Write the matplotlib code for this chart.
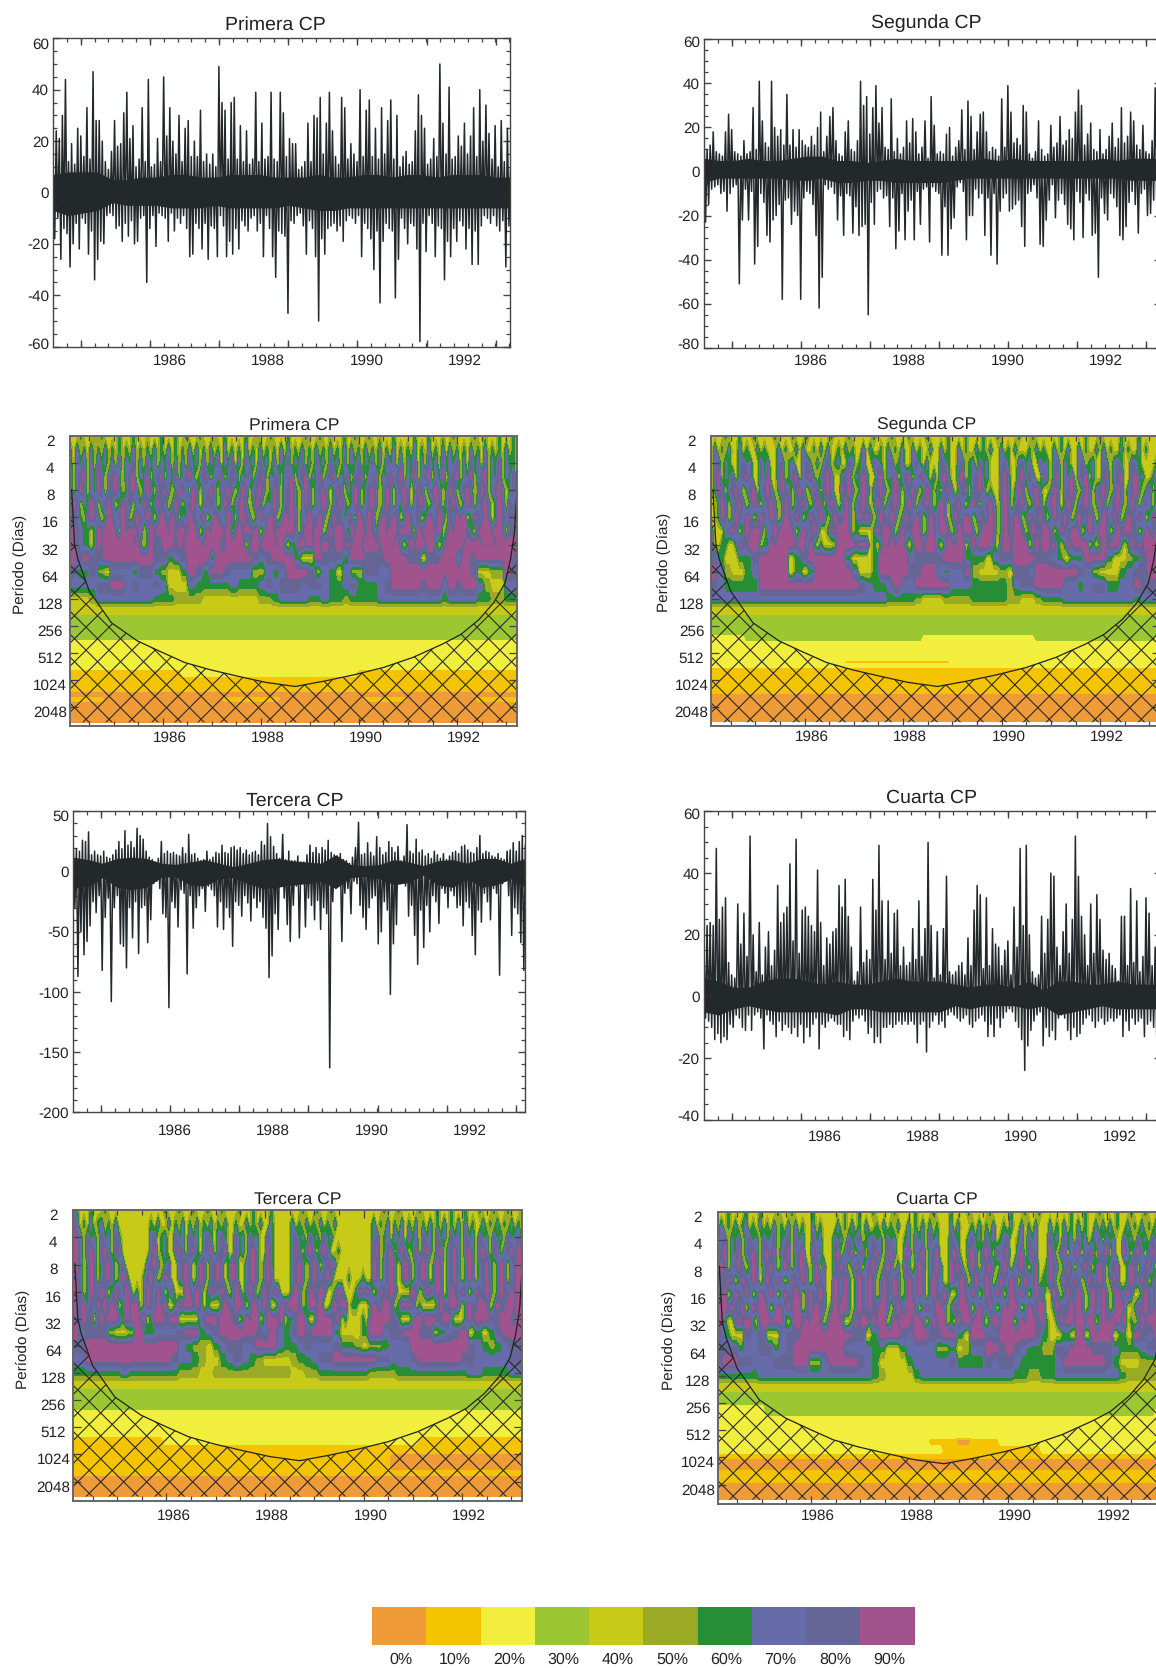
import numpy as np
import matplotlib
matplotlib.use("Agg")
import matplotlib.pyplot as plt
from matplotlib.collections import LineCollection
from matplotlib.patches import Polygon
from matplotlib.transforms import IdentityTransform, ScaledTranslation, blended_transform_factory

plt.rcParams['font.family'] = ['Liberation Sans', 'DejaVu Sans']
plt.rcParams['axes.unicode_minus'] = False
plt.rcParams['text.hinting'] = 'none'

# 1. series (peak and trough read in 150 slots along the time axis)
p1_hi = [9,24,21,30,44,12,19,11,25,22,14,33,13,47,28,28,20,12,9,16,28,18,19,31,39,21,26,10,13,33,12,44,10,11,21,12,45,22,33,20,15,30,12,25,28,14,20,14,32,12,15,11,15,10,49,35,32,13,35,37,13,26,12,24,11,13,39,12,27,13,14,39,13,12,39,31,14,21,19,19,9,10,12,27,12,30,29,37,15,27,39,24,14,11,37,33,13,19,15,12,40,14,32,36,14,25,13,33,15,28,36,13,30,10,14,16,11,12,24,38,30,25,11,13,21,14,50,27,15,41,13,14,22,18,27,15,22,33,14,40,20,34,23,13,26,10,28,12,25,9]
p1_lo = [-18,-10,-26,-14,-16,-29,-20,-12,-22,-10,-12,-24,-15,-34,-26,-19,-20,-9,-8,-9,-14,-13,-19,-12,-17,-11,-20,-19,-10,-9,-35,-14,-9,-21,-8,-9,-10,-19,-8,-15,-10,-12,-9,-14,-25,-24,-12,-14,-22,-12,-26,-13,-14,-25,-9,-13,-25,-19,-24,-14,-22,-11,-13,-15,-10,-9,-15,-12,-25,-9,-14,-25,-33,-15,-16,-17,-47,-11,-12,-9,-8,-13,-24,-11,-14,-25,-50,-18,-24,-14,-13,-12,-15,-13,-19,-11,-9,-10,-12,-9,-25,-12,-14,-18,-30,-15,-43,-19,-12,-14,-15,-41,-26,-10,-14,-20,-12,-13,-22,-58,-12,-23,-9,-12,-25,-13,-14,-34,-19,-25,-14,-19,-11,-13,-22,-14,-28,-15,-28,-13,-9,-10,-12,-9,-13,-15,-11,-29,-13,-10]
p2_hi = [18,10,12,18,9,8,7,18,26,19,9,8,7,14,8,9,29,10,41,23,13,11,41,20,16,19,12,35,12,19,11,19,14,12,11,16,12,20,27,9,16,25,29,14,8,7,18,23,10,9,14,41,30,34,17,29,39,22,29,11,10,33,9,15,8,11,23,13,24,18,8,11,23,6,34,21,8,9,8,17,20,7,11,14,28,10,32,25,10,18,26,27,18,9,11,10,7,33,11,39,27,13,15,12,30,27,8,6,9,23,10,7,8,21,11,13,25,12,14,19,15,27,37,30,12,17,22,10,9,19,8,10,16,22,11,15,29,13,16,27,23,12,10,21,9,8,14,38,15,14]
p2_lo = [-23,-15,-8,-7,-6,-10,-9,-18,-10,-7,-6,-51,-22,-8,-22,-9,-42,-34,-10,-14,-29,-32,-22,-20,-15,-58,-13,-12,-24,-18,-20,-58,-12,-9,-10,-15,-29,-62,-48,-6,-8,-7,-10,-22,-11,-29,-10,-11,-28,-16,-29,-25,-24,-65,-14,-24,-9,-8,-12,-11,-25,-12,-35,-27,-10,-31,-18,-13,-31,-9,-24,-8,-7,-32,-7,-9,-10,-38,-16,-38,-26,-21,-7,-5,-9,-31,-20,-20,-8,-12,-10,-29,-12,-38,-10,-42,-18,-12,-10,-18,-17,-15,-13,-25,-34,-10,-9,-6,-12,-33,-34,-22,-13,-6,-21,-13,-10,-15,-24,-26,-31,-9,-14,-30,-10,-13,-29,-28,-48,-12,-19,-22,-10,-12,-16,-29,-31,-25,-14,-9,-15,-28,-10,-8,-20,-19,-13,-14,-6,-7]
p3_hi = [20,19,17,26,25,33,14,17,14,13,17,12,11,14,18,25,19,34,22,25,20,36,30,27,17,12,10,8,11,25,15,17,15,16,14,13,20,15,31,14,15,11,9,10,17,10,12,16,15,22,16,15,20,21,18,20,15,18,14,16,17,14,25,22,40,29,21,15,11,31,10,17,9,9,13,8,8,14,22,16,20,15,20,18,26,16,14,13,15,10,9,7,12,20,41,14,15,24,16,13,29,20,14,16,25,20,16,21,9,13,39,17,15,27,16,18,13,15,11,17,14,11,15,10,13,16,17,15,21,22,18,16,15,20,30,15,17,16,13,12,15,11,10,17,18,24,17,25,30,22]
p3_lo = [-30,-87,-50,-69,-58,-45,-25,-34,-20,-82,-38,-22,-108,-30,-20,-60,-62,-80,-30,-55,-25,-68,-30,-28,-59,-40,-10,-8,-14,-35,-38,-113,-25,-30,-46,-15,-18,-85,-20,-47,-30,-20,-14,-33,-12,-15,-20,-46,-25,-48,-30,-38,-62,-25,-28,-37,-20,-26,-41,-22,-30,-25,-38,-47,-88,-70,-35,-48,-10,-22,-44,-58,-28,-12,-55,-8,-46,-22,-28,-40,-24,-48,-30,-35,-163,-25,-14,-12,-58,-18,-14,-35,-8,-10,-28,-38,-48,-30,-22,-20,-60,-50,-25,-32,-102,-60,-44,-8,-5,-12,-37,-28,-53,-77,-32,-63,-28,-50,-20,-25,-43,-14,-18,-30,-16,-20,-30,-28,-45,-25,-30,-53,-69,-32,-42,-18,-25,-40,-14,-18,-86,-10,-8,-20,-53,-30,-35,-59,-82,-30]
p4_hi = [14,23,24,23,48,25,29,32,11,7,6,30,17,27,13,52,20,8,24,7,16,21,10,15,36,24,27,29,43,18,51,14,28,29,26,23,21,41,24,10,19,17,21,22,36,29,38,26,16,5,8,29,11,15,12,38,28,49,31,12,31,14,27,28,10,16,10,11,22,12,31,13,22,50,23,6,21,7,22,39,8,7,8,10,11,7,19,10,28,36,33,9,32,10,22,17,16,10,15,18,7,29,16,48,23,49,20,8,6,7,26,14,25,40,39,16,10,21,30,14,25,52,39,26,20,10,30,14,33,25,15,12,14,10,9,5,26,26,10,35,11,31,8,13,32,27,10,16,12,10]
p4_lo = [-7,-8,-10,-14,-12,-15,-13,-14,-9,-10,-6,-7,-10,-11,-6,-11,-6,-5,-7,-17,-6,-8,-9,-13,-8,-11,-9,-10,-12,-10,-13,-9,-15,-10,-13,-9,-7,-17,-9,-10,-8,-7,-8,-9,-9,-13,-11,-14,-8,-6,-7,-6,-8,-12,-10,-15,-13,-15,-10,-10,-9,-10,-9,-8,-9,-8,-9,-8,-9,-15,-9,-8,-18,-10,-8,-6,-9,-8,-10,-6,-5,-6,-7,-8,-7,-6,-9,-10,-8,-7,-6,-8,-13,-9,-13,-7,-10,-7,-5,-4,-5,-8,-10,-14,-24,-16,-11,-8,-6,-5,-16,-10,-13,-11,-14,-7,-6,-7,-11,-14,-10,-13,-12,-9,-7,-6,-8,-10,-8,-7,-9,-8,-7,-8,-7,-6,-13,-8,-11,-7,-9,-8,-7,-13,-9,-8,-10,-13,-8,-9]

# solid dark core of each series, read every 0.3 year or so
p1_core_hi = [7,8,8,8,5,5,6,6,7,7,6,6,7,7,7,6,6,6,7,6,6,7,7,6,7,7,6,7,7,7,6,6]
p1_core_lo = [-7,-9,-8,-7,-4,-5,-5,-5,-6,-6,-6,-5,-6,-6,-6,-6,-5,-6,-7,-7,-6,-6,-6,-6,-6,-6,-6,-6,-6,-6,-6,-6]
p2_core_hi = [6,5,5,6,5,5,6,7,7,5,5,4,5,6,5,5,5,5,5,6,5,6,5,5,5,5,5,6,5,6,6,6]
p2_core_lo = [-5,-3,-3,-3,-3,-3,-4,-4,-3,-5,-5,-4,-4,-5,-5,-5,-5,-4,-3,-3,-3,-3,-3,-3,-3,-3,-3,-3,-3,-4,-4,-4]
p3_core_hi = [12,10,7,11,12,11,7,6,8,10,7,4,7,10,11,9,8,7,14,6,5,6,10,8,5,9,10,7,11,11,7,11]
p3_core_lo = [-14,-12,-5,-13,-15,-13,-5,-4,-11,-12,-6,-5,-10,-14,-13,-11,-10,-8,-14,-5,-4,-6,-11,-9,-3,-11,-13,-6,-13,-11,-6,-13]
p4_core_hi = [6,5,3,3,5,6,6,5,4,5,4,4,5,6,5,5,5,4,3,4,4,3,5,2,5,5,4,4,5,4,4,4]
p4_core_lo = [-5,-6,-4,-3,-4,-5,-5,-5,-5,-6,-4,-4,-5,-5,-5,-5,-5,-3,-4,-3,-3,-3,-4,-3,-6,-5,-4,-3,-4,-4,-4,-4]

# 2. wavelet grids: one digit per column, digit = colour band, short rows repeat their last digit
top_levels = [1, 1.5, 2, 2.5, 3, 3.5, 4, 4.5, 5, 5.5, 6, 6.5, 7, 7.35]
w1_levels = top_levels + [7.8, 8.4, 8.6, 9.5, 9.7, 10, 10.3, 10.55, 10.7, 10.85, 11.55]
w1_rows = [
    "4446444546444464 4464445444644464 4644464445446444 4464454446444464 4446444644544464 4644464454446444 4464446444544644 4446445444644464",
    "6474647464746464 6474646474647464 6474746474647464 6474647464647474 6474647464746474 7464746474647464 6474647464747464 6474647464647464",
    "7476847486747484 7684748674768474 7486748476847684 7486748674847684 7684748674867484 7684768474867484 7684748674867684 7486748476847664",
    "8478947697478964 7894769478947694 7896478947694789 4769478947694769 4789476947894769 4789476947697894 7694789476947894 7694789476947684",
    "8479847698478974 6897469847897469 8749847698478974 6984789746984789 7469847897469847 6984789746984789 7469847897469847 8974698478974684",
    "7984769847897469 7847698479874698 4789746987469847 8974698476984789 7469847698478974 6984789746984769 8478974698478974 6984789746984879",
    "9876489874698789 8469879846987984 7698789469876984 8987469879846989 8476987984698769 8498798469879846 9878469879848698 9469879846987889",
    "8987664698999849 8998946989998989 9899846989998948 9899894699899999 8489989946989984 9899898699899899 9849899989469899 9864899989984889",
    "9987664698999999 9989646987899989 8999998999978999 9946998999989646 6998989899889989 8998999989998964 6989989964699999 8999989998999999",
    "9898899999998867899969999987899964498886998889998848899798999998",
    "8668547776886544698699877755767999857647558877999999999998445598",
    "7777889978778744476666676667878887887667866678999989979899754477",
    "4445777777776665555444444445567777667665666677777777767777665566",
    "4",
    "3", "3", "2", "2",
    "1111111111111111222222222222222222222222211111111111111111111111",
    "1", "1", "0",
    "1111100000000000000000111111110000000000001111110000000000111111",
    "0", "0",
]
w2_levels = top_levels + [7.8, 8.2, 8.4, 8.7, 9.2, 9.35, 9.45, 9.6, 10.4, 10.6, 11.55]
w2_rows = [
    "4444644464446444 4464444644464444 4464444644444464 4446444464444644 4446444464444644 4644444644464444 4446444444644464 4444644446444444",
    "4746474474644746 4447464474744647 4744647464474744 6474647447464474 4746447464474647 4474647444647464 4746474474644747 4644746447464444",
    "4784764478674486 7447846744786474 7846744874674487 6478467447864744 4876447846748674 4478644786744867 4784764478467448 6478644876444464",
    "4794768478974486 9447946894789647 8974478947697448 9476947894789647 4897448946789674 4489744896874497 4794769478947448 9478944896744684",
    "4698478974689478 9746987489746984 8974498974698478 9746984789746984 7489746894789746 4489746984789744 6984789746984789 7469847897469474",
    "4469847897469847 8974698478974698 4897469847897469 8478974698478974 6984789746984789 7469847897469847 8974698478974698 4789746984787474",
    "4469846987984698 7984698798469879 8469879846989846 9879846987984698 7984698798469879 8469879846987984 6987984698798469 8798469879846989",
    "7444789846989984 7698999846987984 4698999846444469 8998469879984698 7998469899846999 8469879984698799 8469879984698799 8469899884698799",
    "8446644698899946 6989999989969646 4445999998999464 6989899646998999 6469989946989999 6489989999469899 8964698999946469 8999646989899999",
    "8644668999946899999644469999788889996664788999887646699964456899",
    "9754467999946469999974469999889976779544454887999999875444678899",
    "8766666999999999999998766797799999777666665788999977678866779888",
    "7777777777777777777777777666654445555666665544566677777777776777",
    "4",
    "3", "3",
    "2222233333333333333333333333332222222222222222333333333333333332",
    "2", "2",
    "2222222222222222222111111111111111222222222222222222222222222222",
    "2", "1", "1", "0", "0",
]
w3_levels = top_levels + [7.8, 8.2, 8.5, 9.2, 9.5, 9.8, 10.1, 10.5, 10.7, 10.85, 11.55]
w3_rows = [
    "7644464446444444 4444444444644464 4464446444644446 4446444464444444 4644464446444444 4444444464446444 4464444644464446 4446444644464446",
    "9746474674647444 4444446474474647 4647464746474464 4746474474444474 6474647464744444 4444474647464746 4746474647464747 4644746474647464",
    "9874867486748644 4444447846744867 4867478647864486 7486744874444478 6748674867444444 4444478467486748 6748674867486748 6748674867486784",
    "9974897489748944 4444447946744897 4896478947894486 7489744974444479 7489748974464444 4444489468948974 6948974894789748 9748974894789799",
    "9974698478974684 4444478974684478 9746984789746984 4789746974444478 9746984789744444 4444498478974698 4789746984789746 9847897469847899",
    "9874698478974698 4444689746984478 9746984789746984 4789746984444478 9746987897444464 4464498478974698 4789746984789746 9847897469847899",
    "9984698798469879 8464698798469444 9879846987984698 4798469879844489 8469879844698444 6989846987984444 9846987984698798 4698798469879899",
    "9889687989798469 8994698798944698 9989846444698799 8469879844698999 8469989446989946 6444698799846999 8464444698799846 9879984698799899",
    "9889884798999869 8998946999889944 4444789998999884 6989946999894668 9964489998894644 4464899999886444 6998999889964446 9899998889998899",
    "9788854459667778996789999987976898999644469978899885678946468999",
    "8899999999999997655467887799976678777866545567779999999987656788",
    "7799999999999987765446787654444566788999999887778999999887777788",
    "6666666766666665554455555555555445566666665555666666666677666677",
    "4",
    "3", "3", "2", "2",
    "1111111111111222222222222222222222222222222222222111111111111111",
    "1",
    "1111111111111111111111111111111111111111111110000000000000000000",
    "1111111111111111111111111111111111111111111110000000000000000000",
    "1", "0", "0",
]
w4_levels = top_levels + [7.8, 8.3, 8.6, 9.2, 9.4, 9.75, 9.95, 10.1, 10.4, 10.55, 10.85, 11, 11.55]
w4_rows = [
    "4446444464446444 4644464444464444 4444644464446444 4464444464444644 4464444644444644 4446444644464444 4444644464446444 4644464446444464",
    "4746474674647464 7464747464474644 4474647464744647 4647447464747464 4474744464746474 4647447464744474 6474647464474747 4644746474647464",
    "6784768478674867 8467848674486744 4867486784678674 8674467486748674 4487644786748674 6784467486744486 7486748674678486 7448674867486744",
    "6894769478974897 9478947894497844 4894789479478974 8974479478947894 4489744897489749 7894479489744497 4794789478947894 7449748974897644",
    "6984789746984789 7469847897469484 4789746984789746 9847497469847897 4498974698478974 6984789746944698 7469847897469847 8944698478974644",
    "6889846987984698 7984698798469874 4987984698798469 8798469879846987 4498798469879846 9879846987946698 4698798469879846 9844698798469844",
    "8894698798469879 8469879846987984 4987984698798469 8798469879846987 9844698798469879 8469879846987449 8469879846987984 6987984469879844",
    "8998987946989984 6987989946989884 6989984698798899 8469879984698799 8469899846987984 6989984698799446 9887989846987984 6998446989879984",
    "8964489899648998 9996469989899846 9998446989969899 4698999899846989 9464989989964699 8999469899889644 6989989989946989 9989464698999899",
    "8644878447889999999884699987998899649987999998644649499946498799",
    "8886778867899999997777664467777556457799898766558799988876667889",
    "8998877788899557999987644446777778666687887666667999999864445558",
    "6666667777777777777777654444677777777777776655667777777776555556",
    "4",
    "3",
    "2222222333333333333333333333333333333333333333333333333333333322",
    "2", "2",
    "2222222222222222222222222222221111001111222222222222222222222222",
    "2222222222222222222222222222222211111111111111222222222222222222",
    "1", "0", "0", "1", "1", "0", "0",
]

# 3. cone of influence, axis labels, colour key
coi_years = [1984.14, 1984.2, 1984.27, 1984.5, 1984.95, 1985.48, 1985.92, 1986.45, 1986.98, 1987.5, 1988.1, 1988.7, 1989.3, 1989.9, 1990.5, 1991.1, 1991.7, 1992.08, 1992.45, 1992.75, 1992.98, 1993.09, 1993.17, 1993.22]
coi_log2 = [2.98, 5.0, 5.55, 6.72, 7.88, 8.55, 8.92, 9.35, 9.62, 9.84, 10.08, 10.23, 10.03, 9.8, 9.53, 9.16, 8.67, 8.31, 7.76, 7.14, 6.41, 5.55, 4.57, 3.1]
year_labels = [1986, 1988, 1990, 1992]
period_labels = [2, 4, 8, 16, 32, 64, 128, 256, 512, 1024, 2048]
key_labels = ["0%", "10%", "20%", "30%", "40%", "50%", "60%", "70%", "80%", "90%"]
band_colors = ["#EF9B38", "#F5C400", "#F2EE3E", "#9BC832", "#C8CA18", "#9BAA25", "#278E38", "#656CA9", "#666696", "#A0538C"]

FW, FH = 1156, 1668
S = FW / 1087.0  # layout below measured on a 1087 wide view
TXT = "#222222"
LINE = "#23282b"

fig = plt.figure(figsize=(FW / 100, FH / 100), dpi=100)


def add_ax(l, r, t, b):
    return fig.add_axes([l * S / FW, 1 - b * S / FH, (r - l) * S / FW, (b - t) * S / FH])


def title(x, y, s, size):
    fig.text(x * S / FW, 1 - (y + 1.7) * S / FH, s, ha='center', va='center', fontsize=size, color=TXT)


def year_text(ax, x, dy):
    tr = blended_transform_factory(ax.transData, ax.transAxes)
    for yr in year_labels:
        ax.annotate(str(yr), xy=(yr + x, 0), xycoords=tr, xytext=(0, -dy * 0.72), textcoords='offset points',
                    ha='center', va='center', fontsize=11, color=TXT, annotation_clip=False)


def line_panel(box, hi, lo, core_hi, core_lo, x0, x1, ymin, ymax, ymajor, yminor, dy, shift_top, shift_bot):
    ax = add_ax(*box)
    t = np.linspace(x0, x1, len(hi))
    half = (t[1] - t[0]) / 2
    xs = np.column_stack([t, t + half]).ravel()
    ys = np.column_stack([hi, lo]).ravel()
    ax.plot(xs, ys, color=LINE, lw=1.1)
    tc = np.linspace(x0, x1, len(core_hi))
    ax.fill_between(tc, core_lo, core_hi, color=LINE, lw=0)
    ax.set_xlim(x0, x1)
    ax.set_ylim(ymin, ymax)
    ax.set_xticks(np.arange(x0 + 0.5625, x1, 1.406))
    ax.set_xticks(np.arange(x0 + 0.281, x1, 0.281), minor=True)
    ax.set_xticklabels([])
    ax.set_yticks(np.arange(ymin, ymax + 1, ymajor))
    ax.set_yticks(np.arange(ymin, ymax + 1, yminor), minor=True)
    ax.tick_params(which='major', direction='in', top=True, right=True, length=5, width=1, color="#444444",
                   labelsize=11, labelcolor=TXT, pad=3)
    ax.tick_params(which='minor', direction='in', top=True, right=True, length=3, width=0.9, color="#444444")
    labs = ax.get_yticklabels()
    labs[0].set_transform(labs[0].get_transform() + ScaledTranslation(0, shift_bot * S / 100, fig.dpi_scale_trans))
    labs[-1].set_transform(labs[-1].get_transform() + ScaledTranslation(0, -shift_top * S / 100, fig.dpi_scale_trans))
    for sp in ax.spines.values():
        sp.set_color("#444444")
        sp.set_linewidth(1)
    year_text(ax, 0.01, dy)
    return ax


def expand(r):
    # rows with 64 digits are read at half the resolution of the streak rows
    r = r.replace(" ", "")
    if len(r) <= 64:
        return "".join(c * 2 for c in r.ljust(64, r[-1]))
    return r[:128].ljust(128, r[-1])


def wave_panel(box, levels, rows, dy):
    ax = add_ax(*box)
    n = 128
    grid = np.array([[int(c) + 0.5 for c in expand(r)] for r in rows])
    x = np.linspace(1984.11, 1993.22, n)
    ax.contourf(x, levels, grid, levels=np.arange(11), colors=band_colors)
    ax.set_xlim(1984.11, 1993.22)
    ax.set_ylim(11.7, 1)
    # hatched area outside the cone
    outside = np.column_stack([[1984.11] + coi_years + [1993.22, 1993.22, 1984.11],
                               [coi_log2[0]] + coi_log2 + [coi_log2[-1], 11.55, 11.55]])
    patch = Polygon(outside, closed=True, fc='none', ec='none', transform=ax.transData)
    ax.add_patch(patch)
    fig.canvas.draw()
    bb = ax.bbox
    segs = []
    for c in np.arange(-bb.height - 23, bb.width + bb.height + 23, 23):
        segs.append([(bb.x0 + c, bb.y0), (bb.x0 + c + bb.height, bb.y1)])
        segs.append([(bb.x0 + c, bb.y1), (bb.x0 + c + bb.height, bb.y0)])
    lc = LineCollection(segs, colors="#2a2a2a", linewidths=0.8, transform=IdentityTransform())
    ax.add_collection(lc, autolim=False)
    lc.set_clip_path(patch)
    ax.plot(coi_years, coi_log2, color="#222222", lw=0.9)
    ax.set_xticks([1986, 1988, 1990, 1992])
    ax.set_xticks(np.arange(1984.5, 1993.2, 0.5), minor=True)
    ax.set_xticklabels([])
    ax.set_yticks(np.arange(2, 12))
    ax.set_yticklabels([])
    ax.tick_params(which='major', direction='in', top=True, right=True, length=6, width=0.9, color="#444444")
    ax.tick_params(which='minor', direction='in', top=True, right=False, left=False, length=3.5, width=0.9, color="#444444")
    ax.tick_params(axis='y', which='minor', length=0)
    tr = blended_transform_factory(ax.transAxes, ax.transData)
    for i, p in enumerate(period_labels):
        ax.annotate(str(p), xy=(0, i + 1.22), xycoords=tr, xytext=(-20 * 0.72, 0), textcoords='offset points',
                    ha='center', va='center', fontsize=11, color=TXT, annotation_clip=False)
    for sp in ax.spines.values():
        sp.set_color("#666666")
        sp.set_linewidth(1.4)
    year_text(ax, 0.14, dy)
    return ax


# 4. line panels
line_panel((50, 480, 36, 326), p1_hi, p1_lo, p1_core_hi, p1_core_lo, 1983.64, 1992.94, -60, 60, 20, 5, 14.5, 5, 3)
line_panel((662, 1092, 37, 327), p2_hi, p2_lo, p2_core_hi, p2_core_lo, 1983.84, 1993.14, -80, 60, 20, 5, 13.5, 2, 4)
line_panel((69, 494, 763, 1046), p3_hi, p3_lo, p3_core_hi, p3_core_lo, 1983.95, 1993.14, -200, 50, 50, 10, 19, 4, 0)
line_panel((662, 1092, 763, 1053), p4_hi, p4_lo, p4_core_hi, p4_core_lo, 1983.56, 1992.86, -40, 60, 20, 5, 17, 2, 4)

# 5. wavelet panels
wave_panel((66, 486, 410, 683), w1_levels, w1_rows, 12)
wave_panel((669, 1091, 410, 683), w2_levels, w2_rows, 11)
wave_panel((69, 491, 1138, 1411), w3_levels, w3_rows, 15)
wave_panel((675, 1097, 1140, 1414), w4_levels, w4_rows, 12)

# 6. titles
title(259, 22, "Primera CP", 14)
title(871, 20, "Segunda CP", 14)
title(277, 398, "Primera CP", 12.6)
title(871, 397, "Segunda CP", 12.6)
title(277, 751, "Tercera CP", 14)
title(876, 749, "Cuarta CP", 14)
title(280, 1127, "Tercera CP", 12.6)
title(881, 1127, "Cuarta CP", 12.6)

for xp, yp in [(19, 531), (624, 529), (22, 1259), (629, 1260)]:
    fig.text(xp * S / FW, 1 - yp * S / FH, "Período (Días)", rotation=90, ha='center', va='center', fontsize=11, color=TXT)

# 7. colour key
ax_key = add_ax(350, 860, 1511, 1547)
for i, c in enumerate(band_colors):
    ax_key.bar(i, 1, width=1, align='edge', color=c, lw=0)
    ax_key.text(i + 0.53, -0.39, key_labels[i], ha='center', va='center', fontsize=11.5, color=TXT, clip_on=False)
ax_key.set_xlim(0, 10)
ax_key.set_ylim(0, 1)
ax_key.axis('off')

plt.savefig("out.png", dpi=100)
